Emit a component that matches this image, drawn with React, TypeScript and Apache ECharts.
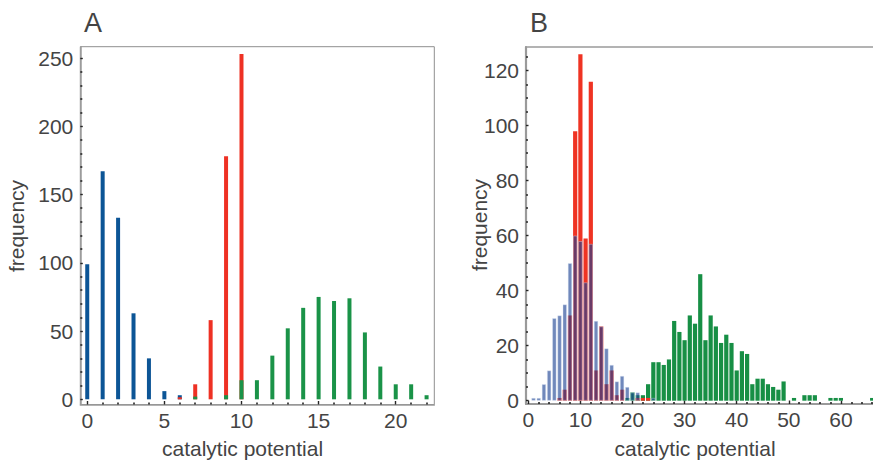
import React, { useEffect, useRef } from "react";
import * as echarts from "echarts";

// ---------- Panel A data (catalytic potential, frequency) ----------
const aBlueX = [0, 1, 2, 3, 4, 5, 6];
const aBlueY = [99, 167, 133, 63, 30, 6, 3];
const aRedX = [6, 7, 8, 9, 10];
const aRedY = [1.5, 11, 58, 178, 253];
const aGreenX = [7, 8, 9, 10, 11, 12, 13, 14, 15, 16, 17, 18, 19, 20, 21, 22];
const aGreenY = [2, 0, 3, 14, 14, 32, 52, 67, 75, 72, 74, 49, 24, 11, 11, 3];

// ---------- Panel B data ----------
const bBlueX = [1, 2, 3, 4, 5, 6, 7, 8, 9, 10, 11, 12, 13, 14, 15, 16, 17, 18, 19, 20, 21, 22, 23, 24];
const bBlueY = [1, 1, 6, 11, 30, 31, 35, 50, 60, 58, 43, 57, 29, 27, 19, 13, 7, 9, 5, 3, 3, 0, 0, 1];
const bRedX = [6, 7, 8, 9, 10, 11, 12, 13, 14, 15, 16, 17, 18, 19, 20, 21, 22, 23];
const bRedY = [1, 4, 31, 98, 126, 59, 116, 11, 27, 6, 11, 2, 4, 0, 0, 1, 1, 1];
const bGreenX = [
  19, 20, 21, 22, 23, 24, 25, 26, 27, 28, 29, 30, 31, 32, 33, 34, 35, 36, 37, 38, 39, 40, 41, 42,
  43, 44, 45, 46, 47, 48, 49, 50, 51, 52, 53, 54, 55, 56, 57, 58, 59, 60, 61, 62, 63, 64, 65, 66,
];
const bGreenY = [
  1, 3, 2, 2, 6, 14, 14, 13, 15, 29, 25, 22, 31, 28, 46, 22, 31, 27, 21, 24, 21, 11, 18, 17,
  6, 8, 8, 6, 5, 4, 7, 0, 1, 0, 2, 2, 2, 0, 0, 1, 1, 1, 0, 0, 0, 0, 0, 1,
];

// ---------- Tick labels ----------
const aXMajor = [0, 5, 10, 15, 20];
const aYMajor = [0, 50, 100, 150, 200, 250];
const bXMajor = [0, 10, 20, 30, 40, 50, 60];
const bYMajor = [0, 20, 40, 60, 80, 100, 120];

const minorTicks = (step: number, max: number, majors: number[]) => {
  const out: number[] = [];
  for (let v = step; v <= max + 1e-9; v += step) {
    const r = Math.round(v * 1000) / 1000;
    if (!majors.includes(r)) out.push(r);
  }
  return out;
};

const pairs = (xs: number[], ys: number[]) =>
  xs.map((x, i) => [x, ys[i]]).filter((p) => p[1] > 0);

const FONT = "'Liberation Sans', Helvetica, Arial, sans-serif";
const TEXT = "#444444";
const TICK = "#262626";
const FS = 21;

export default function App() {
  const ref = useRef<HTMLDivElement>(null);

  useEffect(() => {
    if (!ref.current) return;
    const chart = echarts.init(ref.current, null, { renderer: "svg" });

    const mainX = (gridIndex: number, min: number, max: number, majors: number[], lw: number) => ({
      type: "value",
      gridIndex,
      position: "bottom",
      min,
      max,
      axisLine: { show: true, onZero: false, lineStyle: { color: "#9a9a9a", width: lw } },
      axisTick: { show: true, inside: true, length: 3.5, customValues: majors, lineStyle: { color: TICK, width: 1.4 } },
      axisLabel: { show: true, customValues: majors, margin: 5, fontSize: FS, fontFamily: FONT, color: TEXT },
      splitLine: { show: false },
    });
    const minorX = (gridIndex: number, min: number, max: number, minors: number[]) => ({
      type: "value",
      gridIndex,
      position: "bottom",
      min,
      max,
      axisLine: { show: false, onZero: false },
      axisTick: { show: true, inside: true, length: 2, customValues: minors, lineStyle: { color: TICK, width: 1.6 } },
      axisLabel: { show: false },
      splitLine: { show: false },
    });
    const mainY = (gridIndex: number, min: number, max: number, majors: number[], lw: number) => ({
      type: "value",
      gridIndex,
      position: "left",
      min,
      max,
      axisLine: { show: true, onZero: false, lineStyle: { color: "#9a9a9a", width: lw } },
      axisTick: { show: true, inside: true, length: 2.5, customValues: majors, lineStyle: { color: TICK, width: 1.4 } },
      axisLabel: { show: true, customValues: majors, margin: 7, fontSize: FS, fontFamily: FONT, color: TEXT },
      splitLine: { show: false },
    });
    const minorY = (gridIndex: number, min: number, max: number, minors: number[]) => ({
      type: "value",
      gridIndex,
      position: "left",
      min,
      max,
      axisLine: { show: false, onZero: false },
      axisTick: { show: true, inside: true, length: 2, customValues: minors, lineStyle: { color: TICK, width: 1.6 } },
      axisLabel: { show: false },
      splitLine: { show: false },
    });

    const bar = (xi: number, yi: number, data: number[][], color: string, width: number, extra: any = {}) => ({
      type: "bar",
      xAxisIndex: xi,
      yAxisIndex: yi,
      data,
      barWidth: width,
      barGap: "-100%",
      silent: true,
      itemStyle: { color, ...extra },
    });

    const A = { xmin: -0.45, xmax: 22.5, ymin: -3.8, ymax: 258.3 };
    const B = { xmin: -0.44, xmax: 70, ymin: -1.2, ymax: 128.6 };

    chart.setOption({
      animation: false,
      grid: [
        { left: 80.3, top: 46.7, width: 354, height: 357.8, show: true, borderColor: "#8f8f8f", borderWidth: 1, backgroundColor: "transparent" },
        { left: 526, top: 47, width: 367, height: 357, show: true, borderColor: "#9a9a9a", borderWidth: 1.5, backgroundColor: "transparent" },
      ],
      xAxis: [
        mainX(0, A.xmin, A.xmax, aXMajor, 1.5),
        minorX(0, A.xmin, A.xmax, minorTicks(1, 22, aXMajor)),
        mainX(1, B.xmin, B.xmax, bXMajor, 2.2),
        minorX(1, B.xmin, B.xmax, minorTicks(2, 68, bXMajor)),
      ],
      yAxis: [
        mainY(0, A.ymin, A.ymax, aYMajor, 1.5),
        minorY(0, A.ymin, A.ymax, minorTicks(10, 250, aYMajor)),
        mainY(1, B.ymin, B.ymax, bYMajor, 2.2),
        minorY(1, B.ymin, B.ymax, minorTicks(5, 125, bYMajor)),
      ],
      series: [
        bar(0, 0, pairs(aBlueX, aBlueY), "#0c5596", 4),
        bar(0, 0, pairs(aRedX, aRedY), "#ee3124", 4),
        bar(0, 0, pairs(aGreenX, aGreenY), "#1a9348", 4),
        bar(2, 2, pairs(bGreenX, bGreenY), "#178f45", 4.2),
        bar(2, 2, pairs(bRedX, bRedY), "#ef3323", 4.2),
        bar(2, 2, pairs(bBlueX, bBlueY), "rgba(24,63,145,0.62)", 4.2, {
          borderColor: "rgba(215,225,245,0.55)",
          borderWidth: 0.7,
        }),
      ],
      graphic: [
        { type: "text", x: 84, y: 22.5, style: { text: "A", fontSize: 27, fontFamily: FONT, fill: TEXT, align: "left", verticalAlign: "middle" } },
        { type: "text", x: 530, y: 22.5, style: { text: "B", fontSize: 27, fontFamily: FONT, fill: TEXT, align: "left", verticalAlign: "middle" } },
        { type: "text", x: 242.5, y: 448, style: { text: "catalytic potential", fontSize: FS, fontFamily: FONT, fill: TEXT, align: "center", verticalAlign: "middle" } },
        { type: "text", x: 695, y: 448, style: { text: "catalytic potential", fontSize: FS, fontFamily: FONT, fill: TEXT, align: "center", verticalAlign: "middle" } },
        { type: "text", x: 16, y: 226, rotation: Math.PI / 2, style: { text: "frequency", fontSize: FS, fontFamily: FONT, fill: TEXT, align: "center", verticalAlign: "middle" } },
        { type: "text", x: 479, y: 225, rotation: Math.PI / 2, style: { text: "frequency", fontSize: FS, fontFamily: FONT, fill: TEXT, align: "center", verticalAlign: "middle" } },
      ],
    });

    return () => chart.dispose();
  }, []);

  return (
    <div style={{ position: "fixed", left: 0, top: 0, width: 873, height: 461, overflow: "hidden", background: "#fff" }}>
      <div ref={ref} style={{ width: 900, height: 461 }} />
    </div>
  );
}
